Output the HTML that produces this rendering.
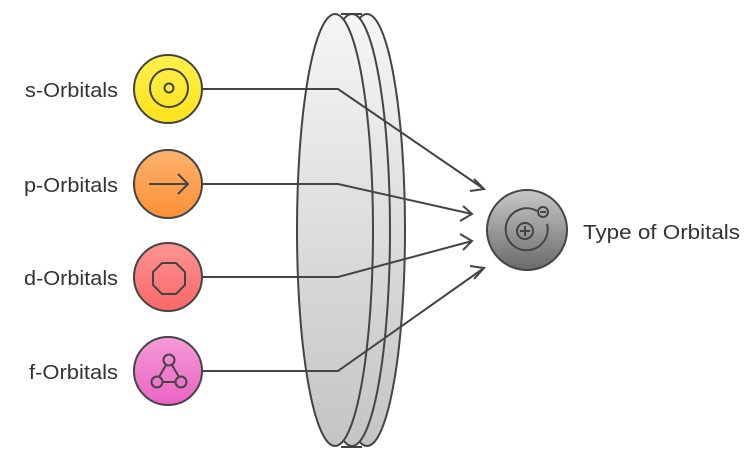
<!DOCTYPE html>
<html><head><style>
body{margin:0;background:#fff;}
svg{display:block}
text{font-family:"Liberation Sans",sans-serif;font-size:20px;fill:#333}
</style></head><body>
<svg width="756" height="462" viewBox="0 0 756 462">
<defs>
<linearGradient id="lens" x1="0" y1="0" x2="0" y2="1"><stop offset="0" stop-color="#f6f6f6"/><stop offset="1" stop-color="#c4c4c4"/></linearGradient>
<linearGradient id="gy" x1="0" y1="0" x2="0" y2="1"><stop offset="0" stop-color="#fff04e"/><stop offset="1" stop-color="#fde21a"/></linearGradient>
<linearGradient id="go" x1="0" y1="0" x2="0" y2="1"><stop offset="0" stop-color="#fdb26e"/><stop offset="1" stop-color="#fb9036"/></linearGradient>
<linearGradient id="gr" x1="0" y1="0" x2="0" y2="1"><stop offset="0" stop-color="#fc9494"/><stop offset="1" stop-color="#fa6767"/></linearGradient>
<linearGradient id="gp" x1="0" y1="0" x2="0" y2="1"><stop offset="0" stop-color="#f69ad8"/><stop offset="1" stop-color="#ea63c3"/></linearGradient>
<linearGradient id="gg" x1="0" y1="0" x2="0" y2="1"><stop offset="0" stop-color="#c8c8c8"/><stop offset="1" stop-color="#6a6a6a"/></linearGradient>
</defs>
<g stroke="#444" stroke-width="2" fill="url(#lens)">
<ellipse cx="367" cy="230" rx="38" ry="216"/>
<ellipse cx="352" cy="230" rx="38" ry="216"/>
<path d="M341 14 L362 14 M341 447 L362 447" fill="none"/>
<ellipse cx="335" cy="230" rx="38" ry="216"/>
</g>
<g stroke="#444" stroke-width="2" fill="none">
<polyline points="202,89 338,89 484,189"/>
<polyline points="202,184 338,184 472,214"/>
<polyline points="202,277 338,277 472,241"/>
<polyline points="202,371 338,371 484,268"/>
<polyline points="474,179 484,189 470,191"/>
<polyline points="463,206 472,214 460,221"/>
<polyline points="460,234 472,241 463,250"/>
<polyline points="470,266 484,268 474,279"/>
</g>
<g stroke="#444" stroke-width="2">
<circle cx="168" cy="89" r="34" fill="url(#gy)"/>
<circle cx="168" cy="184" r="34" fill="url(#go)"/>
<circle cx="168" cy="277" r="34" fill="url(#gr)"/>
<circle cx="168" cy="371" r="34" fill="url(#gp)"/>
<circle cx="527" cy="230" r="40" fill="url(#gg)"/>
</g>
<g stroke="#444" stroke-width="2" fill="none">
<circle cx="169" cy="88" r="19"/><circle cx="169" cy="88" r="4.5"/>
<path d="M149 184 H188 M178 174 L188 184 L178 194"/>
<polygon points="162,263 176,263 185,272 185,285 176,294 162,294 153,285 153,272"/>
<circle cx="169" cy="360" r="5.5"/><circle cx="157" cy="382" r="5.5"/><circle cx="181" cy="382" r="5.5"/>
<path d="M166 365 L159 377 M172 365 L179 377 M162.5 382 H175.5"/>
<circle cx="525" cy="231" r="8"/><path d="M520 231 H530 M525 226 V236"/>
<path d="M537 211 A21 21 0 1 0 547 224"/>
<circle cx="543" cy="212" r="5"/><path d="M540 212 H546"/>
</g>
<text x="25" y="97" textLength="93" lengthAdjust="spacingAndGlyphs">s-Orbitals</text>
<text x="24" y="192" textLength="94" lengthAdjust="spacingAndGlyphs">p-Orbitals</text>
<text x="24" y="285" textLength="94" lengthAdjust="spacingAndGlyphs">d-Orbitals</text>
<text x="29" y="379" textLength="89" lengthAdjust="spacingAndGlyphs">f-Orbitals</text>
<text x="583" y="239" textLength="157" lengthAdjust="spacingAndGlyphs">Type of Orbitals</text>
</svg>
</body></html>
